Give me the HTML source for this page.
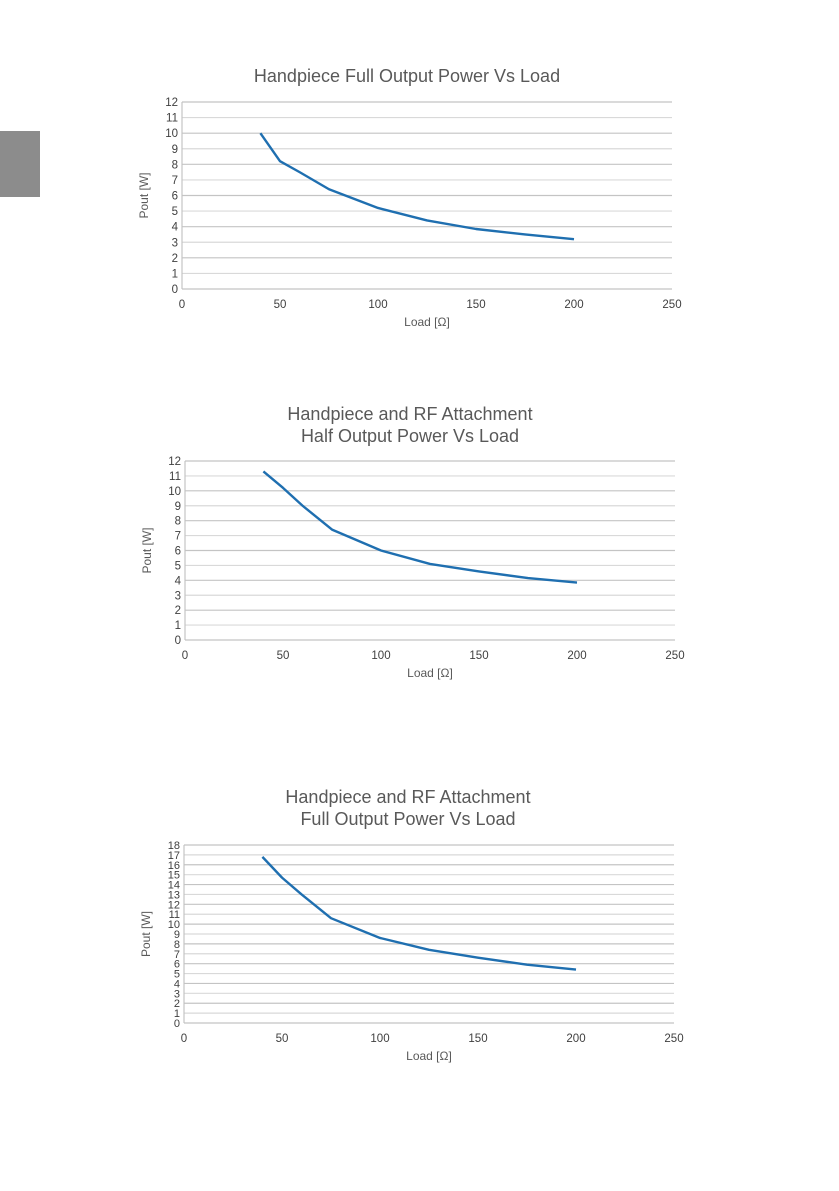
<!DOCTYPE html>
<html><head><meta charset="utf-8">
<style>
body{margin:0;background:#fff;width:839px;height:1191px;overflow:hidden;font-family:"Liberation Sans",sans-serif}
svg{position:absolute;left:0;top:0}
</style></head><body>
<div style="position:absolute;left:0;top:131px;width:40px;height:66px;background:#8c8c8c"></div>
<svg id="s" width="839" height="1191"></svg>
<script>
const xVals=[40,50,60,75,100,125,150,175,200];
const y1=[10,8.2,7.5,6.4,5.2,4.4,3.85,3.5,3.2];
const y2=[11.3,10.2,9.0,7.4,6.0,5.1,4.6,4.15,3.85];
const y3=[16.8,14.7,13.0,10.6,8.6,7.4,6.6,5.9,5.4];
const xTicks=[0,50,100,150,200,250];
const charts=[
 {name:'full-output-chart',titles:['Handpiece Full Output Power Vs Load'],ty:[82],tx:407,x0:182,x1:672,yb:289,yt:102,ymax:12,data:y1,xl:308,xt:326},
 {name:'half-output-rf-chart',titles:['Handpiece and RF Attachment','Half Output Power Vs Load'],ty:[420,442],tx:410,x0:185,x1:675,yb:640,yt:461,ymax:12,data:y2,xl:659,xt:677},
 {name:'full-output-rf-chart',titles:['Handpiece and RF Attachment','Full Output Power Vs Load'],ty:[803,825],tx:408,x0:184,x1:674,yb:1023,yt:845,ymax:18,data:y3,xl:1042,xt:1060}
];
const s=document.getElementById('s');
const NS='http://www.w3.org/2000/svg';
function mk(t,a,txt){const e=document.createElementNS(NS,t);for(const k in a)e.setAttribute(k,a[k]);if(txt!==undefined)e.textContent=txt;s.appendChild(e);return e;}
charts.forEach(c=>{
 const X=v=>c.x0+(v-0)/250*(c.x1-c.x0);
 const Y=v=>c.yb-v/c.ymax*(c.yb-c.yt);
 c.titles.forEach((t,i)=>{const e=mk('text',{x:c.tx,y:c.ty[i],'text-anchor':'middle','font-size':18,fill:'#595959'},t);
  
  });
 for(let v=0;v<=c.ymax;v++){
  const l=mk('line',{x1:c.x0,x2:c.x1,y1:Y(v),y2:Y(v),stroke:v%2?'#d9d9d9':'#c4c4c4','stroke-width':1.2});
  
  
  const t=mk('text',{x:c.x0-4,y:Y(v)+4,'text-anchor':'end','font-size':c.ymax>12?11:11.5,fill:'#404040'},v);
  
  
 }
 const ax=mk('line',{x1:c.x0,x2:c.x0,y1:c.yt,y2:c.yb,stroke:'#c4c4c4','stroke-width':1.2});
 
 
 xTicks.forEach(v=>{const t=mk('text',{x:X(v),y:c.xl,'text-anchor':'middle','font-size':11.5,fill:'#404040'},v);
  
  });
 const xt=mk('text',{x:(c.x0+c.x1)/2,y:c.xt,'text-anchor':'middle','font-size':12,fill:'#595959'},'Load [Ω]');
 
 
 const yc=(c.yt+c.yb)/2;
 const yt=mk('text',{x:c.x0-34,y:yc,'text-anchor':'middle','font-size':12,fill:'#595959',transform:`rotate(-90 ${c.x0-34} ${yc})`},'Pout [W]');
 
 
 const p=mk('polyline',{points:xVals.map((v,i)=>X(v)+','+Y(c.data[i])).join(' '),fill:'none',stroke:'#1f6fb0','stroke-width':2.4,'stroke-linejoin':'round'});
 
 
});
</script>
</body></html>
